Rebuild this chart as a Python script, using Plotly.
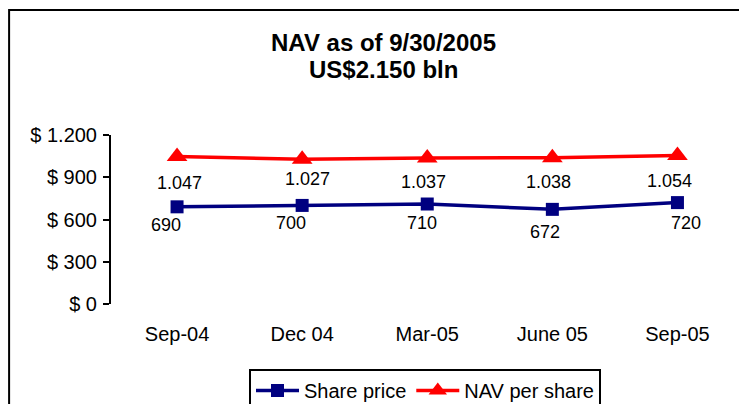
import plotly.graph_objects as go

categories = ["Sep-04", "Dec 04", "Mar-05", "June 05", "Sep-05"]
share_price = [690, 700, 710, 672, 720]
nav_per_share = [1047, 1027, 1037, 1038, 1054]
y_tick_values = [0, 300, 600, 900, 1200]
y_tick_labels = ["$ 0", "$ 300", "$ 600", "$ 900", "$ 1.200"]

# label offsets (pixels) - styling only
share_dx = [-11, -11, -5, -7, 9]
share_dy = [18, 18, 19, 23, 20]
nav_dx = [2, 5, -4, -4, -8]
nav_dy = [26, 20, 24, 24, 25]


def fmt(v):
    return f"{v:,}".replace(",", ".")


FONT = "Liberation Sans, Arial"

fig = go.Figure()
fig.add_trace(go.Scatter(
    x=categories, y=share_price, name="Share price", mode="lines+markers",
    line=dict(color="#000080", width=3.5),
    marker=dict(symbol="square", size=13, color="#000080"),
))
fig.add_trace(go.Scatter(
    x=categories, y=nav_per_share, name="NAV per share", mode="lines+markers",
    line=dict(color="#FF0000", width=3.5),
    marker=dict(symbol="triangle-up", size=18, color="#FF0000"),
))

annotations = []
for c, v, dx, dy in zip(categories, share_price, share_dx, share_dy):
    annotations.append(dict(x=c, y=v, xref="x", yref="y", text=fmt(v), showarrow=False,
                            xshift=dx, yshift=-dy, xanchor="center", yanchor="middle",
                            font=dict(size=18, color="black", family=FONT)))
for c, v, dx, dy in zip(categories, nav_per_share, nav_dx, nav_dy):
    annotations.append(dict(x=c, y=v, xref="x", yref="y", text=fmt(v), showarrow=False,
                            xshift=dx, yshift=-dy, xanchor="center", yanchor="middle",
                            font=dict(size=18, color="black", family=FONT)))

title_font = dict(size=24, color="black", family=FONT)
annotations.append(dict(x=0.434, y=1.550, xref="paper", yref="paper", text="<b>NAV as of 9/30/2005</b>",
                        showarrow=False, xanchor="center", yanchor="middle", font=title_font))
annotations.append(dict(x=0.434, y=1.3905, xref="paper", yref="paper", text="<b>US$2.150 bln</b>",
                        showarrow=False, xanchor="center", yanchor="middle", font=title_font))

fig.update_layout(
    width=739, height=396, autosize=False,
    margin=dict(l=103, r=7, t=127, b=100, pad=0, autoexpand=False),
    paper_bgcolor="white", plot_bgcolor="white",
    font=dict(family=FONT, size=20, color="black"),
    showlegend=True,
    legend=dict(orientation="h", x=(241 - 103) / 629, xanchor="left", y=1 - (361 - 127) / 169,
                yanchor="top", bordercolor="black", borderwidth=2, bgcolor="white",
                font=dict(size=20, color="black"), itemwidth=43),
    annotations=annotations,
    shapes=[dict(type="rect", xref="paper", yref="paper", x0=-0.162, x1=1.2, y0=-1.0, y1=1.740,
                 line=dict(color="black", width=2), fillcolor="rgba(0,0,0,0)", layer="below")],
)
fig.update_xaxes(range=[-0.528, 4.5], showgrid=False, showline=False, ticks="", zeroline=False,
                 tickfont=dict(size=20), ticklabelstandoff=16)
fig.update_yaxes(range=[0, 1200], tickvals=y_tick_values, ticktext=y_tick_labels, showgrid=False,
                 showline=True, linecolor="black", linewidth=2, ticks="outside", ticklen=6,
                 tickwidth=2, tickcolor="black", zeroline=False, tickfont=dict(size=20),
                 ticklabelstandoff=2)

fig.write_html("out.html")
